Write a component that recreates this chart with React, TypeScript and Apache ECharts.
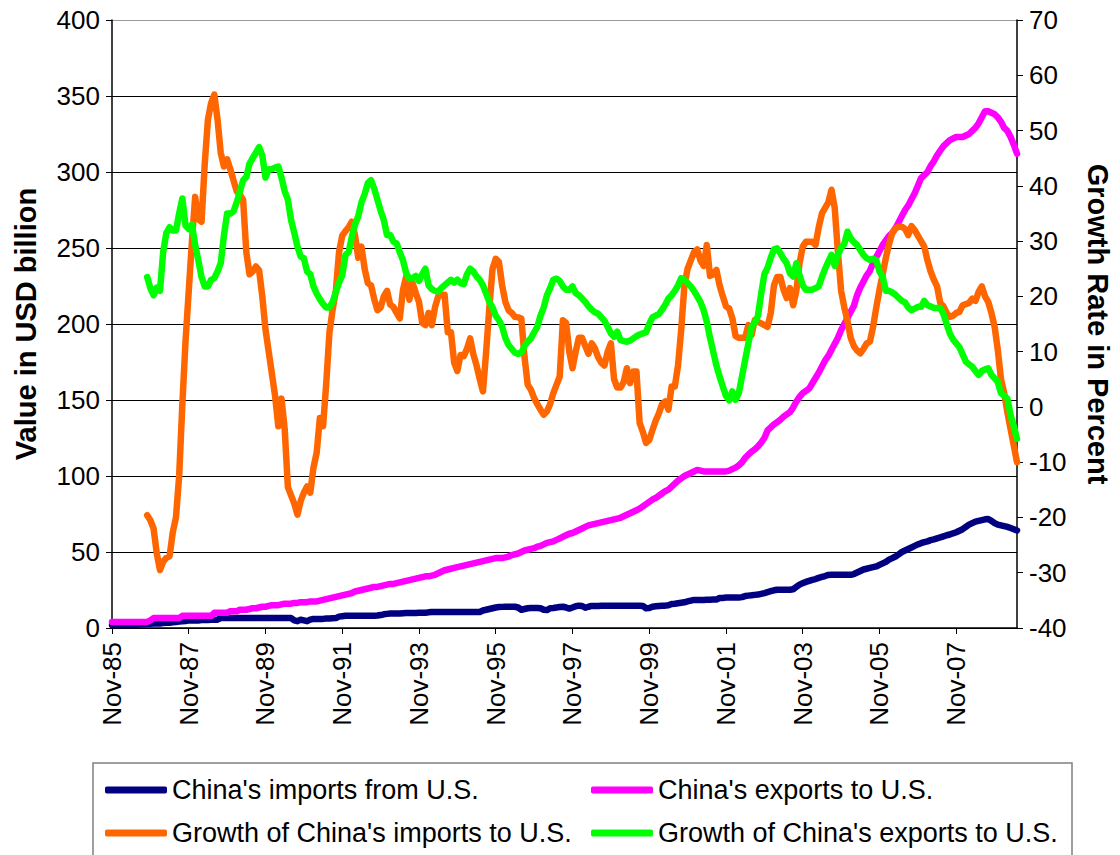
import React, { useEffect, useRef } from "react";
import * as echarts from "echarts";

const FONT = "'Liberation Sans', Arial, sans-serif";

const MONTH_NAMES = ["Jan", "Feb", "Mar", "Apr", "May", "Jun", "Jul", "Aug", "Sep", "Oct", "Nov", "Dec"];
const START_YEAR = 1985;
const START_MONTH = 10; // November
const MONTH_COUNT = 284; // Nov-85 .. Jun-09

const categories: string[] = Array.from({ length: MONTH_COUNT }, (_, i) => {
  const m = (START_MONTH + i) % 12;
  const y = START_YEAR + Math.floor((START_MONTH + i) / 12);
  return `${MONTH_NAMES[m]}-${String(y % 100).padStart(2, "0")}`;
});

const NAME_IMPORTS = "China's imports from U.S.";
const NAME_EXPORTS = "China's exports to U.S.";
const NAME_G_IMPORTS = "Growth of China's imports to U.S.";
const NAME_G_EXPORTS = "Growth of China's exports to U.S.";

// USD billion, 12-month totals
const importsFromUS: number[] = [
  2, 2, 2, 2, 2, 2, 2, 2, 2.2, 2.5,
  2.5, 2.7, 2.8, 3, 3, 3, 3.2, 3.5, 3.5, 3.8,
  4, 4.2, 4.4, 4.6, 5, 5, 5, 5, 5.2, 5.3,
  5.3, 5.4, 5.5, 5.5, 6.5, 6.5, 6.5, 6.5, 6.5, 6.5,
  6.5, 6.5, 6.5, 6.5, 6.5, 6.5, 6.5, 6.5, 6.5, 6.5,
  6.5, 6.5, 6.5, 6.5, 6.5, 6.5, 6.5, 5, 4.5, 5.5,
  5, 4.5, 5.5, 6, 6, 6, 6, 6.2, 6.3, 6.4,
  6.5, 7.5, 7.8, 8, 8, 8, 8, 8, 8, 8,
  8, 8, 8, 8.2, 8.5, 9, 9.3, 9.5, 9.5, 9.5,
  9.6, 9.7, 9.8, 9.8, 9.9, 9.9, 10, 10, 10, 10.3,
  10.5, 10.5, 10.5, 10.5, 10.5, 10.5, 10.5, 10.5, 10.5, 10.5,
  10.5, 10.5, 10.5, 10.5, 10.5, 10.5, 11.5, 12, 12.5, 13,
  13.5, 13.8, 13.9, 14, 14, 14, 14, 13.5, 12, 12.5,
  13, 13.2, 13.2, 13.2, 13, 12, 11.8, 13, 13.2, 13.5,
  13.8, 14, 13.5, 12.8, 13.5, 14.3, 14.7, 14.5, 13.3, 14,
  14.5, 14.5, 14.5, 14.6, 14.6, 14.6, 14.7, 14.7, 14.7, 14.7,
  14.7, 14.7, 14.7, 14.7, 14.7, 14.7, 14.5, 13, 13.2, 14,
  14.3, 14.5, 14.6, 14.7, 15, 15.8, 16, 16.3, 16.6, 16.9,
  17.5, 18, 18.5, 18.5, 18.5, 18.5, 18.6, 18.6, 18.7, 18.8,
  19.7, 19.8, 20, 20, 20, 20, 20, 20.3, 21, 21.3,
  21.5, 21.8, 22, 22.5, 23, 23.6, 24.2, 24.8, 25.2, 25.2,
  25.2, 25.2, 25.2, 25.5, 27, 28.5, 29.5, 30.3, 31, 31.7,
  32.2, 33, 33.6, 34.2, 34.9, 35, 35, 35, 35, 35,
  35, 35, 35.5, 36.5, 37.5, 38.5, 39, 39.5, 40, 40.5,
  41.5, 42.5, 43.5, 45, 46, 47, 48.5, 50, 51, 52,
  53, 54, 55, 55.8, 56.5, 57, 57.8, 58.3, 59, 59.6,
  60.3, 61, 61.5, 62.3, 63, 64, 65, 66.5, 68, 69,
  70, 70.5, 71, 71.5, 71.7, 70.5, 69, 68, 67.5, 67,
  66.5, 65.8, 65, 64.2,
];

// USD billion, 12-month totals
const exportsToUS: number[] = [
  4, 4, 4, 4, 4, 4, 4, 4, 4, 4,
  4, 4, 5, 6.5, 6.5, 6.5, 6.5, 6.5, 6.5, 6.5,
  6.5, 6.5, 8, 8, 8, 8, 8, 8, 8, 8,
  8, 8, 10, 10, 10, 10, 10, 11, 11, 11,
  12, 12, 12, 12.5, 13, 13, 13.5, 14, 14, 14.5,
  15, 15, 15, 15.5, 16, 16, 16, 16.5, 16.5, 17,
  17, 17, 17.5, 17.5, 17.5, 18, 18.5, 19, 19.5, 20,
  20.5, 21, 21.5, 22, 22.5, 23, 24, 24.5, 25, 25.5,
  26, 26.5, 27, 27, 27.5, 28, 28.5, 29, 29, 29.5,
  30, 30.5, 31, 31.5, 32, 32.5, 33, 33.5, 34, 34,
  34.5, 35, 36, 37, 38, 38.5, 39, 39.5, 40, 40.5,
  41, 41.5, 42, 42.5, 43, 43.5, 44, 44.5, 45, 45.5,
  46, 46, 46, 46.5, 47, 48, 48.5, 49, 50, 51,
  51.5, 52, 52.5, 53.5, 54, 55, 56, 56.5, 57, 58,
  59, 60, 61, 62, 62.5, 63.5, 64.5, 65.5, 66.5, 67.5,
  68, 68.5, 69, 69.5, 70, 70.5, 71, 71.5, 72, 72.5,
  73.5, 74.5, 75.5, 76.5, 77.5, 78.5, 80, 81.5, 83, 84.5,
  85.5, 87, 88.5, 90, 91, 93, 95, 97, 98.5, 100,
  101, 102, 103, 104, 103.5, 103, 103, 103, 103, 103,
  103, 103, 103, 103.5, 104.5, 105.5, 107, 109, 112, 114,
  116, 117.5, 119.5, 122, 125, 130, 132, 134, 135.5, 137,
  139, 140.5, 142, 145, 149, 152, 154.5, 156, 157.5, 161,
  164.5, 168, 172, 176, 179, 183, 187, 191, 196, 200,
  204, 208, 212, 219, 224, 228, 232, 235, 240, 244,
  248, 252, 255, 258, 260, 263, 267, 271, 275, 278,
  282, 286, 291, 296, 298, 300, 304, 307, 311, 314,
  317, 319, 321, 322, 323, 323, 323, 324, 325, 327,
  329, 332, 336, 340, 340, 339, 338, 336, 333, 329,
  327, 323, 318, 312,
];

// percent, year-on-year (starts Oct-86)
const growthImports: (number | null)[] = [
  null, null, null, null, null, null, null, null, null, null,
  null, -19.6, -20.5, -22, -26.5, -29.5, -28, -27.3, -27, -22.7,
  -20, -12.5, 0.5, 12, 21, 30, 38, 34, 33.5, 44,
  52, 55, 56.5, 52, 46, 43.5, 44.8, 43, 41, 39,
  38.4, 37.5, 28, 24, 24.5, 25.4, 24.7, 20, 14, 10,
  6, 2, -3.5, 1.5, -4, -14.5, -16, -17.5, -19.5, -17,
  -15.5, -14.4, -15.5, -11, -8.3, -2, -3.5, 4.3, 13.5, 17.6,
  21, 28, 31, 31.8, 32.5, 33.5, 31, 27, 29, 25,
  22.4, 22, 19.5, 17.5, 18, 20, 21, 18.5, 18.1, 17,
  16, 21.2, 23.6, 19.4, 22.4, 20.6, 19, 15.2, 14.8, 17,
  14.8, 18, 20, 20.3, 20.3, 13.5, 13.5, 8, 6.5, 9.4,
  9.2, 10.5, 12.4, 9.5, 7.5, 5, 2.8, 10, 18, 25,
  26.8, 26.2, 22, 19, 17.5, 17, 16.3, 16.2, 16, 9,
  4, 3.1, 1.6, 0.5, -0.5, -1.4, -0.8, 0.5, 2.5, 4,
  5.5, 15.7, 15.2, 10, 7, 10, 12.5, 12.5, 11, 9.6,
  11.5, 10.6, 9, 8, 7.5, 10, 11.5, 5, 3.5, 3.5,
  4.5, 7, 4.3, 6.4, 6.4, -2.9, -4.5, -6.5, -6, -4.2,
  -2.5, -1.2, 0.5, 1, -0.5, 3.7, 3.7, 7.5, 14, 22,
  25, 26.5, 28, 28.5, 26.5, 25.5, 29.3, 23.7, 24, 24.8,
  22, 20, 18.2, 17.8, 16, 12.8, 12.5, 12.5, 12.5, 14.8,
  13, 15.7, 15.4, 15.1, 14.8, 14.5, 17, 22, 23.5, 23.5,
  21.2, 19.7, 21.5, 18.4, 21, 26, 29, 29.9, 29.9, 29.9,
  29.3, 32.5, 35, 36, 37, 39.3, 36, 28, 21, 18,
  15.5, 12.5, 11, 10.2, 9.7, 10.5, 11.5, 11.8, 14.5, 18,
  21.2, 24, 27, 29.5, 31.5, 32.3, 32.6, 32.6, 32.2, 31.1,
  32.7, 32, 31, 30, 29, 26.5, 24.5, 23, 21.8, 18.8,
  18.2, 17, 16.3, 16.5, 17, 17.2, 18.4, 18.6, 18.8, 19.6,
  19.2, 20.8, 21.8, 20, 19, 17, 14.5, 10.3, 5, 2.5,
  -1, -4, -7, -10,
];

// percent, year-on-year (starts Oct-86)
const growthExports: (number | null)[] = [
  null, null, null, null, null, null, null, null, null, null,
  null, 23.5, 21.5, 20.2, 21.6, 21, 28, 31.5, 32.5, 31.9,
  31.9, 35, 37.7, 32.8, 32.2, 33, 29.3, 26.5, 23.5, 21.8,
  21.8, 23, 23.3, 24.5, 26, 31, 35, 35, 35.4, 37,
  39, 41, 41.6, 44, 45, 46, 47, 45.5, 41.5, 43,
  43, 43.3, 43.5, 41.5, 39, 37.5, 33.8, 31.5, 29, 27.2,
  26.9, 24.5, 24, 21.8, 20.5, 19.5, 18.6, 18, 18, 19,
  20.8, 22.5, 23.8, 27.5, 28, 30.8, 33, 34.5, 37, 38.5,
  40.5, 41, 39.5, 37.5, 35.5, 33.8, 31.1, 31.1, 29.9, 29.6,
  28, 26.5, 24.2, 23.2, 23.3, 23.7, 22.8, 24, 25, 22,
  21.3, 21, 20.9, 21.5, 22, 22.5, 23, 22.5, 23, 22.4,
  22.2, 24, 25, 24.5, 23.6, 23, 22, 20.5, 19, 18,
  16.5, 15.7, 14.5, 12.5, 11.2, 10.5, 9.8, 9.6, 9.8, 11,
  11.8, 12.4, 13.5, 14.5, 16.5, 18, 20.2, 21.5, 23, 23.2,
  22.8, 21.8, 21.2, 21.2, 21.8, 20.6, 20.2, 19.6, 19, 18.2,
  17.6, 17.1, 16.9, 16.2, 15.6, 14.5, 13.3, 12.7, 13.6, 12.1,
  11.9, 11.8, 12, 12.4, 12.8, 13.1, 13.3, 13.5, 15, 16.2,
  16.5, 16.8, 17.6, 18.5, 19.6, 20.2, 21, 22, 23.3, 23,
  22.4, 21.8, 21, 20, 19, 17.5, 15.4, 12.5, 10, 7.5,
  5.5, 3.7, 2, 1.2, 2.8, 1.3, 2.5, 5.5, 8.5, 11.5,
  14.5, 15.2, 16.5, 20.5, 24, 25.2, 27, 28.5, 28.7, 27.8,
  26.8, 26, 24.2, 23.6, 26, 23.8, 22, 21.2, 21.2, 21.2,
  21.5, 21.8, 23.5, 25, 26.3, 27.5, 25.5, 27.5, 28.8, 29.5,
  31.7, 30.5, 29.8, 29.3, 28.4, 27.5, 26.9, 26.6, 26.8, 26.5,
  24.5, 23.5, 21, 21, 20.7, 20.3, 19.7, 19.2, 18.9, 18,
  17.5, 17.8, 18.1, 18.1, 19.2, 18.4, 18.2, 17.9, 17.9, 17.9,
  16.8, 15, 13.3, 12.2, 11.5, 10.8, 9.5, 8.2, 7.7, 7.3,
  6.5, 5.8, 6.5, 6.8, 7, 5.8, 5.2, 4.5, 2.5, 2,
  1.5, -1.5, -3.5, -5.8,
];

const LEFT_MIN = 0;
const LEFT_MAX = 400;
const LEFT_STEP = 50;
const RIGHT_MIN = -40;
const RIGHT_MAX = 70;
const RIGHT_STEP = 10;
const LABEL_EVERY = 24;

const COLORS = {
  imports: "#000080",
  exports: "#FF00FF",
  gImports: "#FF6600",
  gExports: "#00FF00",
};

function lineSeries(name: string, data: (number | null)[], color: string, yAxisIndex: number) {
  return {
    name,
    type: "line",
    data,
    yAxisIndex,
    symbol: "none",
    showSymbol: false,
    connectNulls: false,
    lineStyle: { color, width: 6.5, cap: "round", join: "round" },
    itemStyle: { color },
  };
}

export default function App() {
  const ref = useRef<HTMLDivElement>(null);

  useEffect(() => {
    document.body.style.margin = "0";
    if (!ref.current) return;
    const chart = echarts.init(ref.current, null, { renderer: "svg" });
    const showEvery = (index: number) => index % LABEL_EVERY === 0;
    const splitCount = (LEFT_MAX - LEFT_MIN) / LEFT_STEP + 1;
    const splitColors: string[] = [];
    for (let i = 0; i < splitCount; i++) {
      splitColors.push(i === splitCount - 1 ? "#9a9a9a" : "#000000");
    }
    const legendText = { fontSize: 27, fontFamily: FONT, color: "#000", lineHeight: 30 };
    const legendBase = {
      orient: "vertical",
      selectedMode: false,
      icon: "roundRect",
      itemWidth: 62,
      itemHeight: 7,
      itemGap: 13,
      textStyle: legendText,
      top: 770,
    };

    chart.setOption({
      animation: false,
      backgroundColor: "#ffffff",
      textStyle: { fontFamily: FONT },
      grid: { left: 112, right: 98, top: 20, bottom: 227, containLabel: false },
      legend: [
        { ...legendBase, left: 100, data: [NAME_IMPORTS, NAME_G_IMPORTS] },
        { ...legendBase, left: 586, data: [NAME_EXPORTS, NAME_G_EXPORTS] },
      ],
      graphic: [
        {
          type: "rect",
          silent: true,
          shape: { x: 93, y: 763, width: 979, height: 110 },
          style: { fill: "none", stroke: "#808080", lineWidth: 1.5 },
        },
      ],
      xAxis: {
        type: "category",
        data: categories,
        boundaryGap: false,
        axisLine: { show: true, lineStyle: { color: "#000", width: 1.5 } },
        axisTick: { show: true, interval: showEvery, length: 6, lineStyle: { color: "#000" } },
        axisLabel: {
          interval: showEvery,
          rotate: 90,
          fontSize: 26,
          margin: 14,
          color: "#000",
          fontFamily: FONT,
        },
        splitLine: { show: false },
      },
      yAxis: [
        {
          type: "value",
          position: "left",
          min: LEFT_MIN,
          max: LEFT_MAX,
          interval: LEFT_STEP,
          name: "Value in USD billion",
          nameLocation: "middle",
          nameGap: 72,
          nameTextStyle: { fontSize: 29, fontWeight: "bold", color: "#000", fontFamily: FONT },
          axisLine: { show: true, lineStyle: { color: "#000", width: 1.5 } },
          axisTick: { show: true, length: 6, lineStyle: { color: "#000" } },
          axisLabel: { fontSize: 26, color: "#000", margin: 12, fontFamily: FONT },
          splitLine: { show: true, lineStyle: { color: splitColors, width: 1.2 } },
        },
        {
          type: "value",
          position: "right",
          min: RIGHT_MIN,
          max: RIGHT_MAX,
          interval: RIGHT_STEP,
          name: "Growth Rate in Percent",
          nameLocation: "middle",
          nameRotate: -90,
          nameGap: 66,
          nameTextStyle: { fontSize: 29, fontWeight: "bold", color: "#000", fontFamily: FONT },
          axisLine: { show: true, lineStyle: { color: "#000", width: 1.5 } },
          axisTick: { show: true, length: 6, lineStyle: { color: "#000" } },
          axisLabel: { fontSize: 26, color: "#000", margin: 12, fontFamily: FONT },
          splitLine: { show: false },
        },
      ],
      series: [
        lineSeries(NAME_IMPORTS, importsFromUS, COLORS.imports, 0),
        lineSeries(NAME_EXPORTS, exportsToUS, COLORS.exports, 0),
        lineSeries(NAME_G_IMPORTS, growthImports, COLORS.gImports, 1),
        lineSeries(NAME_G_EXPORTS, growthExports, COLORS.gExports, 1),
      ],
    });

    return () => {
      chart.dispose();
    };
  }, []);

  return <div ref={ref} style={{ width: 1120, height: 855 }} />;
}
